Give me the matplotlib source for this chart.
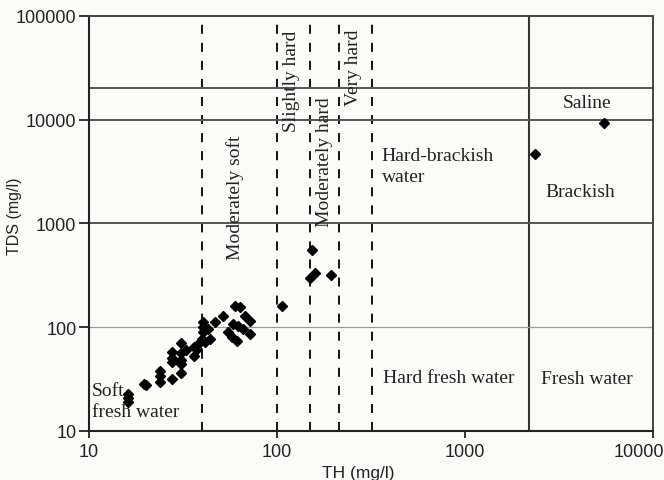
import matplotlib
matplotlib.use("Agg")
import matplotlib.pyplot as plt
from matplotlib.transforms import ScaledTranslation

# Total hardness (TH) and total dissolved solids (TDS) of the samples, mg/l
th = [16.2, 16.2, 16.2, 19.6, 20.0, 23.8, 23.8, 23.8, 27.5, 27.5,
      27.5, 27.5, 31.0, 31.0, 31.0, 31.0, 31.0, 33.0, 36.0, 36.0,
      37.4, 38.0, 40.6, 40.6, 40.6, 40.0, 41.4, 44.0, 43.0, 46.8,
      51.8, 59.8, 63.5, 67.7, 71.8, 58.6, 62.3, 55.1, 57.4, 61.0,
      71.8, 66.0, 106, 154, 150, 159, 194, 2355, 5510]
tds = [22.5, 20.7, 19.2, 28.5, 27.5, 38.0, 34.0, 29.5, 31.5, 57.0,
       51.0, 46.0, 70.0, 56.0, 48.0, 44.0, 36.0, 60.0, 64.0, 53.0,
       62.0, 69.0, 112, 100, 89.0, 77.0, 72.0, 77.0, 96.0, 112,
       129, 161, 155, 129, 115, 107, 103, 89.0, 80.0, 74.0,
       86.0, 96.0, 161, 559, 299, 333, 321, 4680, 9250]

# Hardness class boundaries (dashed) and the fresh/brackish boundaries
hardness_bounds = [40, 100, 150, 215, 320]
th_limit = 2200
tds_bounds = [1000, 10000, 20000]

x_ticks = [10, 100, 1000, 10000]
y_ticks = [10, 100, 1000, 10000, 100000]

serif = "Liberation Serif"
sans = "Liberation Sans"
bg = "#fdfbf8"

fig = plt.figure(figsize=(6.64, 4.81), dpi=100, facecolor=bg)
ax = fig.add_axes([0.134, 0.102, 0.849, 0.863], facecolor=bg)
ax.set_xscale("log")
ax.set_yscale("log")
ax.set_xlim(10, 10000)
ax.set_ylim(10, 100000)

for x in hardness_bounds:
    ax.axvline(x, color="black", lw=1.3, ls=(0, (5, 5)), zorder=1)
ax.axvline(th_limit, color="#333333", lw=1.5, zorder=1)
ax.axhline(100, color="#9a9a9a", lw=0.9, zorder=1)
for y in tds_bounds:
    ax.axhline(y, color="#555555", lw=1.4, zorder=1)

ax.plot(th, tds, ls="none", marker="D", ms=5.2, color="black", zorder=3)

# zone labels
tkw = dict(fontfamily=serif, fontsize=14, color="#222222")
ax.text(59.8, 1800, "Moderately soft", rotation=90, ha="center", va="center", **tkw)
ax.text(120, 24000, "Slightly hard", rotation=90, ha="center", va="center", **tkw)
ax.text(180, 4000, "Moderately hard", rotation=90, ha="center", va="center", **tkw)
ax.text(257, 32000, "Very hard", rotation=90, ha="center", va="center", **tkw)
ax.text(362, 3540, "Hard-brackish\nwater", ha="left", va="center", linespacing=1.3, **tkw)
ax.text(4460, 14500, "Saline", ha="center", va="center", **tkw)
ax.text(2670, 2050, "Brackish", ha="left", va="center", **tkw)
ax.text(366, 32.4, "Hard fresh water", ha="left", va="center", **tkw)
ax.text(2535, 31.7, "Fresh water", ha="left", va="center", **tkw)
ax.text(10.4, 19.5, "Soft\nfresh water", ha="left", va="center", linespacing=1.3, **tkw)

ax.set_xticks(x_ticks)
ax.set_xticklabels([str(v) for v in x_ticks])
ax.set_yticks(y_ticks)
ax.set_yticklabels([str(v) for v in y_ticks])
ax.minorticks_off()
ax.tick_params(axis="both", labelsize=13, colors="#222222", width=1.3)
ax.tick_params(axis="y", length=7, pad=2)
ax.tick_params(axis="x", length=5, pad=4)
for lab in ax.get_xticklabels() + ax.get_yticklabels():
    lab.set_fontfamily(sans)

# keep the last x tick label inside the figure
last = ax.get_xticklabels()[-1]
last.set_transform(last.get_transform() + ScaledTranslation(-0.14, 0, fig.dpi_scale_trans))

ax.set_xlabel("TH (mg/l)", fontfamily=sans, fontsize=12.5, color="#222222")
ax.set_ylabel("TDS (mg/l)", fontfamily=sans, fontsize=11.5, color="#222222")
ax.xaxis.set_label_coords(0.478, -0.083)
ax.yaxis.set_label_coords(-0.119, 0.52)

for side in ["left", "bottom"]:
    ax.spines[side].set_linewidth(1.5)
    ax.spines[side].set_color("#222222")
for side in ["top", "right"]:
    ax.spines[side].set_linewidth(1.4)
    ax.spines[side].set_color("#444444")

fig.savefig("out.png", dpi=100, facecolor=bg)
